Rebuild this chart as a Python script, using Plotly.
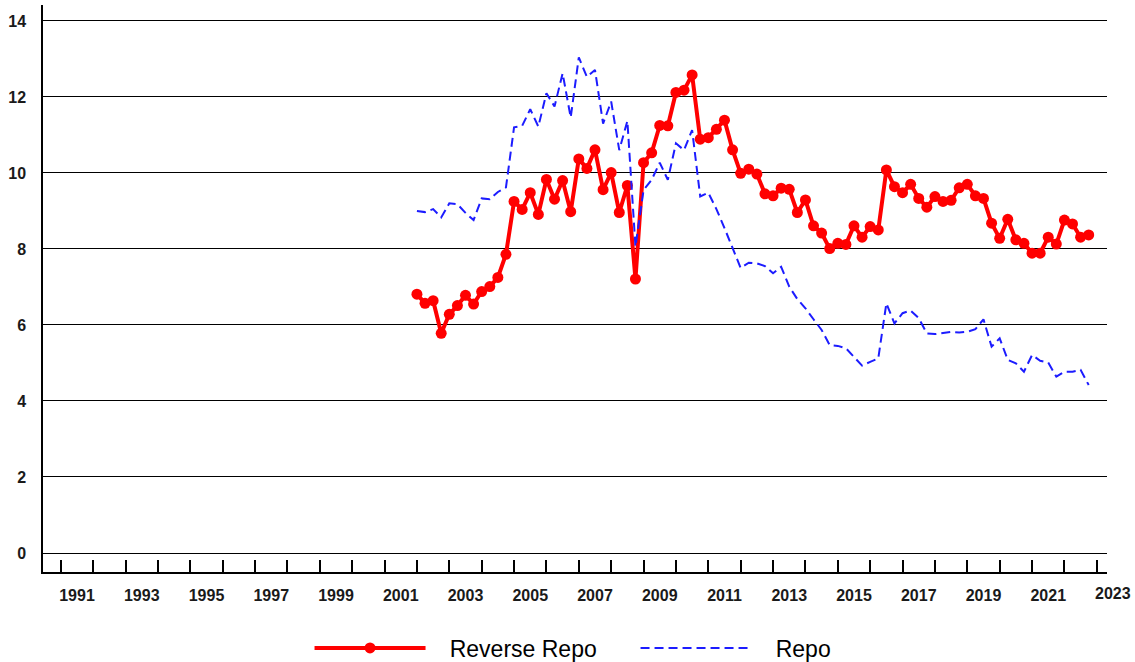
import pandas as pd
import plotly.graph_objects as go

# quarterly observations, 2001Q4 .. 2022Q3
quarters = pd.period_range("2001Q4", "2022Q3", freq="Q")

reverse_repo = [
    6.81, 6.57, 6.64, 5.78, 6.28, 6.51, 6.78, 6.55, 6.88, 7.01, 7.25, 7.86,
    9.25, 9.04, 9.48, 8.91, 9.83, 9.31, 9.80, 8.98, 10.37, 10.12, 10.61, 9.56,
    10.01, 8.96, 9.67, 7.21, 10.27, 10.53, 11.25, 11.24, 12.12, 12.18, 12.58, 10.89,
    10.93, 11.15, 11.39, 10.61, 9.99, 10.10, 9.97, 9.45, 9.40, 9.60, 9.57, 8.96,
    9.29, 8.61, 8.42, 8.01, 8.15, 8.12, 8.61, 8.31, 8.59, 8.50, 10.08, 9.64,
    9.48, 9.70, 9.33, 9.10, 9.38, 9.25, 9.28, 9.61, 9.70, 9.40, 9.33, 8.68,
    8.28, 8.78, 8.24, 8.15, 7.89, 7.89, 8.31, 8.13, 8.76, 8.66, 8.31, 8.37,
]

repo = [
    9.00, 8.97, 9.05, 8.83, 9.20, 9.18, 8.95, 8.76, 9.33, 9.31, 9.50, 9.62,
    11.20, 11.24, 11.68, 11.22, 12.10, 11.75, 12.62, 11.46, 13.04, 12.53, 12.71, 11.30,
    11.88, 10.60, 11.37, 8.06, 9.55, 9.82, 10.27, 9.82, 10.78, 10.60, 11.13, 9.38,
    9.48, 9.05, 8.55, 8.00, 7.50, 7.64, 7.62, 7.55, 7.36, 7.53, 7.01, 6.68,
    6.44, 6.15, 5.87, 5.47, 5.45, 5.39, 5.17, 4.93, 5.03, 5.12, 6.57, 6.04,
    6.31, 6.38, 6.18, 5.78, 5.76, 5.80, 5.82, 5.80, 5.82, 5.89, 6.15, 5.43,
    5.65, 5.08, 4.99, 4.77, 5.21, 5.06, 5.01, 4.64, 4.77, 4.77, 4.82, 4.42,
]

label_years = list(range(1991, 2024, 2))
tick_years = list(range(1991, 2024))
y_ticks = list(range(0, 15, 2))

x = [q.year + q.quarter / 4 for q in quarters]

X0, X1 = 1990.45, 2023.315
FONT = "Liberation Sans, Arial, sans-serif"
NB = "\u00a0" * 3

fig = go.Figure()
fig.add_trace(go.Scatter(x=x, y=reverse_repo, mode="lines+markers", name=NB + "Reverse Repo",
                         line=dict(color="#ff0000", width=4),
                         marker=dict(color="#ff0000", size=11)))
fig.add_trace(go.Scatter(x=x, y=repo, mode="lines", name=NB + "Repo",
                         line=dict(color="#1c1cff", width=2, dash="9px,5px")))

# last year label sits past the end of the axis, so place it by hand
lbl_in = [y for y in label_years if y + 0.5 <= X1]
lbl_out = [y for y in label_years if y + 0.5 > X1]
for yr in lbl_out:
    fig.add_annotation(text=str(yr), xref="paper", yref="paper",
                       x=(yr + 0.5 - X0) / (X1 - X0), y=0, yshift=-11,
                       xanchor="center", yanchor="top", showarrow=False,
                       font=dict(family=FONT, size=16, color="#1a1a1a", weight="bold"))

fig.update_layout(
    width=1135, height=662,
    paper_bgcolor="white", plot_bgcolor="white",
    margin=dict(l=43, r=28, t=5, b=90, autoexpand=False),
    showlegend=True,
    legend=dict(orientation="h", x=0.2505, xanchor="left", y=-0.134, yanchor="middle",
                itemwidth=111, entrywidth=200, font=dict(family=FONT, size=23, color="black"),
                bgcolor="rgba(0,0,0,0)"),
)

fig.update_xaxes(range=[X0, X1], tickmode="array", automargin=False,
                 tickvals=[y + 0.5 for y in lbl_in], ticktext=[str(y) for y in lbl_in],
                 ticks="", ticklabelstandoff=8,
                 showline=True, linecolor="black", linewidth=1.5,
                 showgrid=False, zeroline=False,
                 tickfont=dict(family=FONT, size=16, color="#1a1a1a", weight="bold"),
                 minor=dict(tickvals=tick_years, ticks="inside", ticklen=12, tickwidth=1.5,
                            tickcolor="black", showgrid=False))

fig.update_yaxes(range=[-0.5, 14.42], tickmode="array", tickvals=y_ticks, automargin=False,
                 ticks="", ticklabelstandoff=12,
                 showline=True, linecolor="black", linewidth=1.5,
                 showgrid=True, gridcolor="black", gridwidth=1.2, zeroline=False,
                 tickfont=dict(family=FONT, size=16, color="#1a1a1a", weight="bold"))

# page body has a default 8px margin; drop it so the figure fills the window
fig.write_html("out.html", config={"displayModeBar": False},
               post_script="document.body.style.margin = '0';")
